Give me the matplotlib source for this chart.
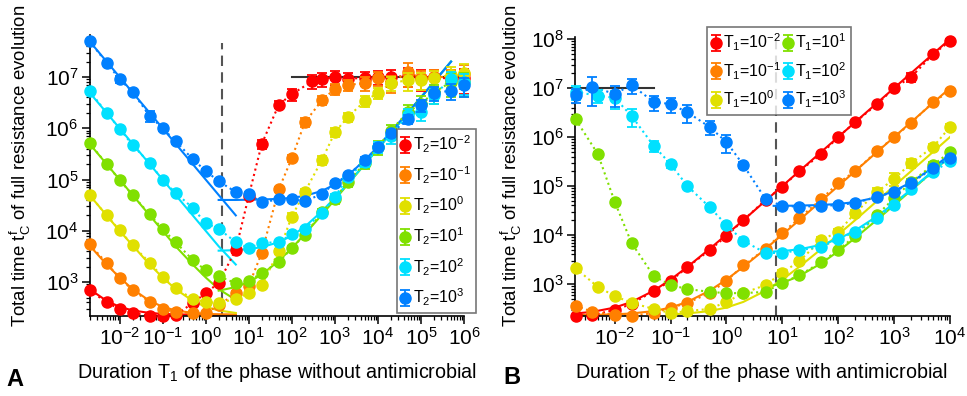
import numpy as np
import matplotlib
matplotlib.use('Agg')
import matplotlib.pyplot as plt
from matplotlib.ticker import LogLocator, LogFormatterSciNotation, NullFormatter

plt.rcParams['font.family'] = ['Liberation Sans', 'DejaVu Sans']
plt.rcParams['mathtext.fontset'] = 'custom'
plt.rcParams['mathtext.rm'] = 'Liberation Sans'
plt.rcParams['mathtext.it'] = 'Liberation Sans:italic'
plt.rcParams['mathtext.bf'] = 'Liberation Sans:bold'

colors = ['#ff0000', '#ff8000', '#e0e000', '#80e000', '#00e0ff', '#0080ff']
exps = ['-2', '-1', '0', '1', '2', '3']

# ---------------- panel A : t_C^f vs T1, one series per T2 ----------------
xA = [0.002, 0.005, 0.01, 0.02, 0.05, 0.1, 0.2, 0.5, 1, 2, 5, 10, 20, 50, 100, 200, 500,
      1e3, 2e3, 5e3, 1e4, 2e4, 5e4, 1e5, 2e5, 5e5, 1e6]
xA_red = [0.002, 0.005, 0.01, 0.02, 0.05, 0.1, 0.2, 0.5, 1, 2, 5, 10, 20, 50, 100, 300, 500,
          1e3, 2e3, 5e3, 1e4, 2e4, 5e4, 1e5, 2e5, 5e5, 1e6]

yA_red = [700, 400, 300, 250, 222, 222, 228, 390, 610, 960, 4.3e3, 4.8e4, 4.9e5, 2.9e6, 4.6e6, 8.3e6,
          9.1e6, 1.0e7, 9.3e6, 9.6e6, 1.0e7, 1.0e7, 1.05e7, 9.5e6, 1.0e7, 9.2e6, 9.5e6]
yA_orange = [5.5e3, 2.35e3, 1.2e3, 700, 410, 300, 260, 250, 250, 350, 610, 850, 3.7e3, 6.5e4, 2.6e5,
             1.3e6, 3.5e6, 5.9e6, 7.0e6, 7.6e6, 9.5e6, 7.6e6, 1.25e7, 9.5e6, 1.0e7, 1.0e7, 1.15e7]
yA_yellow = [5.0e4, 2.0e4, 1.03e4, 5.2e3, 2.4e3, 1.25e3, 760, 470, 410, 390, 470, 610, 870, 4.0e3,
             1.9e4, 5.7e4, 2.4e5, 8.3e5, 1.66e6, 3.4e6, 4.9e6, 7.6e6, 8.7e6, 8.7e6, 9.6e6, 1.1e7, 1.2e7]
yA_green = [5.2e5, 2.0e5, 9.8e4, 5.0e4, 2.1e4, 1.08e4, 6.0e3, 2.7e3, 1.7e3, 1.3e3, 950, 1.05e3, 1.5e3,
            2.45e3, 4.6e3, 8.3e3, 2.3e4, 4.2e4, 9.0e4, 2.1e5, 4.3e5, 9.0e5, 2.1e6, 3.0e6, 5.0e6, 8.0e6, 8.0e6]
yA_cyan = [5.4e6, 2.0e6, 9.8e5, 4.7e5, 2.1e5, 9.8e4, 5.5e4, 2.8e4, 1.4e4, 1.1e4, 6.0e3, 4.6e3, 5.8e3,
           6.0e3, 8.6e3, 1.1e4, 2.2e4, 4.6e4, 1.1e5, 2.2e5, 4.3e5, 7.0e5, 1.8e6, 2.1e6, 4.5e6, 9.0e6, 8.0e6]
yA_blue = [5.0e7, 1.9e7, 9.1e6, 5.1e6, 1.75e6, 1.0e6, 5.6e5, 2.5e5, 1.47e5, 9.3e4, 5.7e4, 5.2e4, 3.6e4,
           4.1e4, 4.1e4, 3.8e4, 5.2e4, 8.5e4, 1.2e5, 2.4e5, 4.3e5, 8.0e5, 1.5e6, 2.8e6, 4.9e6, 5.4e6, 6.9e6]

# relative error bars
eA_red = [.04, .04, .04, .04, .04, .04, .04, .06, .06, .08, .15, .1, .2, .15, .25, .3, .3, .3, .3, .3,
          .3, .35, .4, .45, .4, .45, .5]
eA_orange = [.04, .04, .04, .04, .04, .04, .04, .04, .04, .06, .08, .08, .1, .12, .15, .2, .2, .25, .25,
             .3, .3, .35, .5, .4, .35, .4, .5]
eA_yellow = [.04, .04, .04, .04, .04, .04, .04, .04, .04, .04, .08, .08, .08, .1, .15, .15, .2, .2, .2,
             .25, .25, .3, .4, .35, .35, .45, .5]
eA_green = [.04, .04, .04, .04, .04, .04, .04, .04, .04, .04, .05, .05, .08, .08, .1, .1, .15, .2, .2,
            .25, .3, .3, .35, .4, .4, .5, .5]
eA_cyan = [.04, .04, .04, .04, .06, .06, .06, .08, .08, .08, .06, .06, .06, .06, .08, .1, .12, .15, .15,
           .2, .25, .3, .3, .35, .35, .4, .45]
eA_blue = [.05, .1, .15, .08, .25, .1, .1, .1, .08, .08, .1, .1, .08, .08, .08, .08, .1, .12, .1, .15,
           .15, .15, .2, .25, .3, .35, .4]

# theory curves
lineA_left_x = [0.002, 0.005, 0.01, 0.02, 0.05, 0.1, 0.2, 0.5, 1, 2, 5]
lineA_left_red = [730, 430, 330, 280, 250, 240, 235, 232, 231, 230, 230]
lineA_left_orange = [5200, 2200, 1230, 730, 430, 330, 280, 250, 240, 235, 232]
lineA_left_yellow = [5.0e4, 2.0e4, 1.0e4, 5200, 2200, 1230, 730, 430, 330, 280, 250]
lineA_left_green = [5.0e5, 2.0e5, 1.0e5, 5.0e4, 2.0e4, 1.0e4, 5000, 2200, 1230, 730, 450]
lineA_left_cyan = [5.0e6, 2.0e6, 1.0e6, 5.0e5, 2.0e5, 1.0e5, 5.0e4, 2.0e4, 1.0e4, 5000, 2200]
lineA_left_blue = [5.0e7, 2.0e7, 1.0e7, 5.0e6, 2.0e6, 1.0e6, 5.0e5, 2.0e5, 1.0e5, 5.0e4, 2.0e4]

lineA_right_x = [2, 5, 10, 20, 50, 100, 200, 500, 1e3, 2e3, 5e3, 1e4, 1e5, 5e5]
lineA_right_green = [680, 800, 1000, 1400, 2600, 4600, 8600, 2.06e4, 4.06e4, 8.06e4, 2.0e5, 4.0e5,
                     4.0e6, 2.0e7]
lineA_right_cyan = [4.1e3, 4.2e3, 4.4e3, 4.8e3, 6.0e3, 8.0e3, 1.2e4, 2.4e4, 4.4e4, 8.4e4, 2.0e5, 4.0e5,
                    4.0e6, 2.0e7]
lineA_right_blue = [4.0e4, 4.0e4, 4.04e4, 4.08e4, 4.2e4, 4.4e4, 4.8e4, 6.0e4, 8.0e4, 1.2e5, 2.4e5,
                    4.4e5, 4.0e6, 2.0e7]

plateauA_x = [100, 1e6]
plateau_y = 1e7
dashA = 2.35

# ---------------- panel B : t_C^f vs T2, one series per T1 ----------------
xB_a = [0.002, 0.004, 0.01, 0.02, 0.05, 0.1, 0.2, 0.5, 1, 2, 5, 10, 20, 50, 100, 200, 500,
        1e3, 2e3, 5e3, 1e4]
xB_b = [0.002, 0.005, 0.01, 0.02, 0.05, 0.1, 0.2, 0.5, 1, 2, 5, 10, 20, 50, 100, 200, 500,
        1e3, 2e3, 5e3, 1e4]

yB_red = [225, 233, 295, 390, 720, 1.15e3, 2.2e3, 4.9e3, 9.5e3, 2.0e4, 5.2e4, 9.6e4, 2.0e5, 4.5e5,
          1.0e6, 2.0e6, 4.7e6, 1.0e7, 1.66e7, 4.9e7, 9.1e7]
yB_orange = [360, 270, 235, 225, 255, 325, 410, 655, 1.15e3, 2.4e3, 5.2e3, 1.1e4, 2.2e4, 5.4e4,
             1.15e5, 2.0e5, 5.2e5, 1.0e6, 1.9e6, 5.2e6, 8.7e6]
yB_yellow = [2.1e3, 870, 570, 410, 310, 255, 280, 310, 430, 650, 950, 1.7e3, 2.9e3, 8.0e3, 1.15e4,
             2.8e4, 7.6e4, 1.4e5, 2.9e5, 6.3e5, 1.6e6]
yB_green = [2.3e6, 4.5e5, 4.8e4, 6.9e3, 1.45e3, 950, 790, 690, 650, 650, 690, 1.05e3, 1.5e3, 2.8e3,
            4.9e3, 9.5e3, 2.6e4, 5.6e4, 1.2e5, 2.7e5, 4.9e5]
yB_cyan = [8.3e6, 7.0e6, 6.3e6, 2.7e6, 6.6e5, 2.8e5, 1.0e5, 3.7e4, 1.6e4, 7.6e3, 4.3e3, 4.3e3, 4.9e3,
           5.7e3, 8.3e3, 1.15e4, 2.2e4, 4.1e4, 8.5e4, 1.9e5, 3.3e5]
yB_blue = [7.2e6, 1.05e7, 7.6e6, 1.15e7, 5.2e6, 4.7e6, 3.2e6, 1.6e6, 7.9e5, 2.7e5, 5.4e4, 3.9e4, 3.8e4,
           3.9e4, 4.1e4, 4.5e4, 6.0e4, 7.6e4, 1.15e5, 2.3e5, 3.7e5]

eB_red = [.03, .03, .03, .03, .03, .03, .03, .04, .04, .04, .04, .04, .04, .05, .05, .05, .06, .1, .2,
          .1, .12]
eB_orange = [.04, .04, .04, .04, .04, .04, .04, .04, .04, .04, .04, .04, .05, .05, .06, .06, .08, .1,
             .12, .12, .12]
eB_yellow = [.05, .05, .05, .05, .05, .05, .05, .05, .05, .05, .1, .15, .1, .15, .15, .15, .2, .3, .2,
             .15, .15]
eB_green = [.1, .1, .1, .08, .05, .05, .05, .08, .08, .08, .08, .06, .06, .06, .06, .06, .1, .1, .15,
            .15, .1]
eB_cyan = [.3, .3, .4, .4, .25, .15, .1, .1, .08, .05, .05, .05, .05, .05, .05, .05, .08, .1, .1, .1,
           .1]
eB_blue = [.3, .6, .45, .35, .35, .35, .4, .3, .4, .15, .1, .08, .08, .08, .08, .08, .08, .1, .1, .12,
           .12]

lineB_x = xB_a
lineB_red = [250, 270, 330, 430, 730, 1230, 2230, 5200, 1.02e4, 2.0e4, 5.0e4, 1.0e5, 2.0e5, 5.0e5,
             1.0e6, 2.0e6, 5.0e6, 1.0e7, 2.0e7, 5.0e7, 1.0e8]
lineB_orange = [232, 234, 240, 250, 280, 330, 430, 730, 1230, 2230, 5200, 1.02e4, 2.0e4, 5.0e4, 1.0e5,
                2.0e5, 5.0e5, 1.0e6, 2.0e6, 5.0e6, 1.0e7]
lineB_yellow_x = [0.1, 0.2, 0.5, 1, 2, 5, 10, 20, 50, 100, 200, 500, 1e3, 2e3, 5e3, 1e4]
lineB_yellow = [240, 250, 280, 330, 430, 730, 1230, 2230, 5200, 1.02e4, 2.0e4, 5.0e4, 1.0e5, 2.0e5,
                5.0e5, 1.0e6]
lineB_right_x = [7, 10, 20, 50, 100, 200, 500, 1e3, 2e3, 5e3, 1e4]
lineB_green = [930, 1050, 1450, 2650, 4650, 8650, 2.07e4, 4.07e4, 8.07e4, 2.0e5, 4.0e5]
lineB_cyan = [4.6e3, 4.7e3, 5.1e3, 6.3e3, 8.3e3, 1.23e4, 2.43e4, 4.43e4, 8.43e4, 2.04e5, 4.04e5]
lineB_blue = [3.93e4, 3.94e4, 3.98e4, 4.1e4, 4.3e4, 4.7e4, 5.9e4, 7.9e4, 1.19e5, 2.39e5, 4.39e5]

plateauB_x = [0.002, 0.05]
dashB = 7.7


def style_axis(ax, xlim, ylim):
    ax.set_xscale('log')
    ax.set_yscale('log')
    ax.set_xlim(*xlim)
    ax.set_ylim(*ylim)
    for s in ['top', 'right']:
        ax.spines[s].set_visible(False)
    for s in ['left', 'bottom']:
        ax.spines[s].set_linewidth(1.2)
    for axis in [ax.xaxis, ax.yaxis]:
        axis.set_major_locator(LogLocator(base=10, numticks=30))
        axis.set_minor_locator(LogLocator(base=10, subs=np.arange(2, 10), numticks=300))
        axis.set_major_formatter(LogFormatterSciNotation())
        axis.set_minor_formatter(NullFormatter())
    ax.tick_params(which='major', length=6, width=1.1, direction='out', labelsize=15, pad=2)
    ax.tick_params(which='minor', length=3, width=0.9, direction='out')


def draw_series(ax, xs, ys, errs, labels):
    for i in range(6):
        c = colors[i]
        y = np.array(ys[i])
        ax.plot(xs[i], y, ':', color=c, lw=1.5, zorder=2)
        ax.errorbar(xs[i], y, yerr=y * np.array(errs[i]), fmt='o', ms=8, color=c, ecolor=c,
                    elinewidth=1.3, capsize=3.5, capthick=1.3, clip_on=False, zorder=3 + i,
                    label=labels[i])


fig = plt.figure(figsize=(9.67, 3.96), dpi=100)
axA = fig.add_axes([89.5 / 967, 1 - 316 / 396, (464 - 89.5) / 967, (316 - 35) / 396])
axB = fig.add_axes([575 / 967, 1 - 316 / 396, (950 - 575) / 967, (316 - 37) / 396])

# panel A
style_axis(axA, (0.002, 1e6), (218, 6.6e7))
for xl, yl, c in [(lineA_left_x, lineA_left_red, colors[0]), (lineA_left_x, lineA_left_orange, colors[1]),
                  (lineA_left_x, lineA_left_yellow, colors[2]), (lineA_left_x, lineA_left_green, colors[3]),
                  (lineA_left_x, lineA_left_cyan, colors[4]), (lineA_left_x, lineA_left_blue, colors[5]),
                  (lineA_right_x, lineA_right_green, colors[3]), (lineA_right_x, lineA_right_cyan, colors[4]),
                  (lineA_right_x, lineA_right_blue, colors[5])]:
    axA.plot(xl, yl, '-', color=c, lw=1.5, zorder=2)
axA.plot(plateauA_x, [plateau_y, plateau_y], '-', color='#333333', lw=1.5, zorder=2)
axA.axvline(dashA, ymax=0.97, color='#555555', lw=1.5, dashes=(5, 3), zorder=1)
draw_series(axA, [xA_red, xA, xA, xA, xA, xA],
            [yA_red, yA_orange, yA_yellow, yA_green, yA_cyan, yA_blue],
            [eA_red, eA_orange, eA_yellow, eA_green, eA_cyan, eA_blue],
            ['T$_2$=10$^{%s}$' % e for e in exps])
legA = axA.legend(loc='lower left', bbox_to_anchor=(0.82, 0.01), fontsize=11.5, frameon=True,
                  fancybox=False, edgecolor='#555555', handlelength=0.5, handletextpad=0.2,
                  borderpad=0.3, labelspacing=0.58, borderaxespad=0)
legA.get_frame().set_linewidth(1.2)
legA.set_zorder(20)

# panel B
style_axis(axB, (0.00195, 1e4), (222, 1.1e8))
for xl, yl, c in [(lineB_x, lineB_red, colors[0]), (lineB_x, lineB_orange, colors[1]),
                  (lineB_yellow_x, lineB_yellow, colors[2]), (lineB_right_x, lineB_green, colors[3]),
                  (lineB_right_x, lineB_cyan, colors[4]), (lineB_right_x, lineB_blue, colors[5])]:
    axB.plot(xl, yl, '-', color=c, lw=1.5, zorder=2)
axB.plot(plateauB_x, [plateau_y, plateau_y], '-', color='#333333', lw=1.5, zorder=2)
axB.axvline(dashB, color='#555555', lw=1.5, dashes=(5, 3), zorder=1)
draw_series(axB, [xB_a, xB_a, xB_b, xB_b, xB_b, xB_a],
            [yB_red, yB_orange, yB_yellow, yB_green, yB_cyan, yB_blue],
            [eB_red, eB_orange, eB_yellow, eB_green, eB_cyan, eB_blue],
            ['T$_1$=10$^{%s}$' % e for e in exps])
legB = axB.legend(loc='upper left', bbox_to_anchor=(0.352, 1.036), ncol=2, fontsize=11.5, frameon=True,
                  fancybox=False, edgecolor='#555555', handlelength=0.5, handletextpad=0.2,
                  borderpad=0.3, labelspacing=0.45, columnspacing=0.15, borderaxespad=0)
legB.get_frame().set_linewidth(1.2)
legB.set_zorder(20)

# labels
ylab = 'Total time t$^{\\mathregular{f}}_{\\mathregular{C}}$ of full resistance evolution'
fig.text(20 / 967, 1 - 166 / 396, ylab, rotation=90, ha='center', va='center', fontsize=13.4)
fig.text(511 / 967, 1 - 166 / 396, ylab, rotation=90, ha='center', va='center', fontsize=13.4)
fig.text(277 / 967, 1 - 372 / 396, 'Duration T$_1$ of the phase without antimicrobial',
         ha='center', va='center', fontsize=14.2)
fig.text(761 / 967, 1 - 372 / 396, 'Duration T$_2$ of the phase with antimicrobial',
         ha='center', va='center', fontsize=14.2)
fig.text(15 / 967, 1 - 380 / 396, 'A', ha='center', va='center', fontsize=17, fontweight='bold')
fig.text(512 / 967, 1 - 378 / 396, 'B', ha='center', va='center', fontsize=17, fontweight='bold')

fig.savefig('out.png', dpi=100)
